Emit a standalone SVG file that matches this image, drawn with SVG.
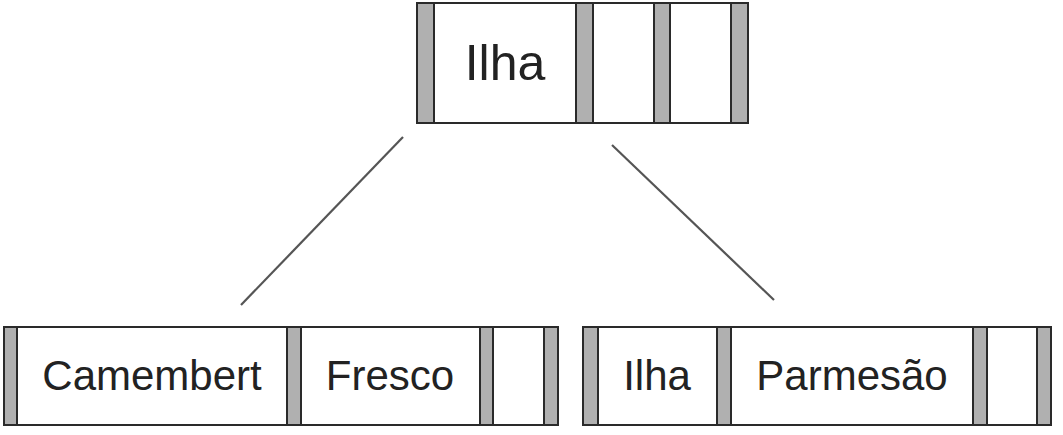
<svg xmlns="http://www.w3.org/2000/svg" width="1063" height="435" viewBox="0 0 1063 435">
<style>
.box{fill:#ffffff;stroke:#2a2a2a;stroke-width:2}
.ptr{fill:#b0b0b0;stroke:#2a2a2a;stroke-width:2}
.lbl{font-family:"Liberation Sans",Arial,sans-serif;fill:#222222;text-anchor:middle}
.big{font-size:50px}
.sm{font-size:42px}
.edge{stroke:#555555;stroke-width:2.2;fill:none}
</style>
<rect width="1063" height="435" fill="#ffffff"/>
<g id="connectors">
<line class="edge" x1="403" y1="137" x2="241" y2="305"/>
<line class="edge" x1="612" y1="145" x2="774" y2="300"/>
</g>
<g id="root">
<rect class="box" x="417" y="3" width="331" height="120"/>
<rect class="ptr" x="417" y="3" width="17" height="120"/>
<rect class="ptr" x="576" y="3" width="17" height="120"/>
<rect class="ptr" x="654" y="3" width="16" height="120"/>
<rect class="ptr" x="731" y="3" width="17" height="120"/>
<text class="lbl big" x="505" y="80">Ilha</text>
</g>
<g id="left-leaf">
<rect class="box" x="4" y="327" width="554" height="98"/>
<rect class="ptr" x="4" y="327" width="13" height="98"/>
<rect class="ptr" x="287" y="327" width="14" height="98"/>
<rect class="ptr" x="480" y="327" width="13" height="98"/>
<rect class="ptr" x="544" y="327" width="14" height="98"/>
<text class="lbl sm" x="152" y="390">Camembert</text>
<text class="lbl sm" x="390" y="390">Fresco</text>
</g>
<g id="right-leaf">
<rect class="box" x="583" y="327" width="468" height="98"/>
<rect class="ptr" x="583" y="327" width="15" height="98"/>
<rect class="ptr" x="717" y="327" width="14" height="98"/>
<rect class="ptr" x="973" y="327" width="14" height="98"/>
<rect class="ptr" x="1037" y="327" width="14" height="98"/>
<text class="lbl sm" x="657" y="390">Ilha</text>
<text class="lbl sm" x="852" y="390">Parmesão</text>
</g>
</svg>
